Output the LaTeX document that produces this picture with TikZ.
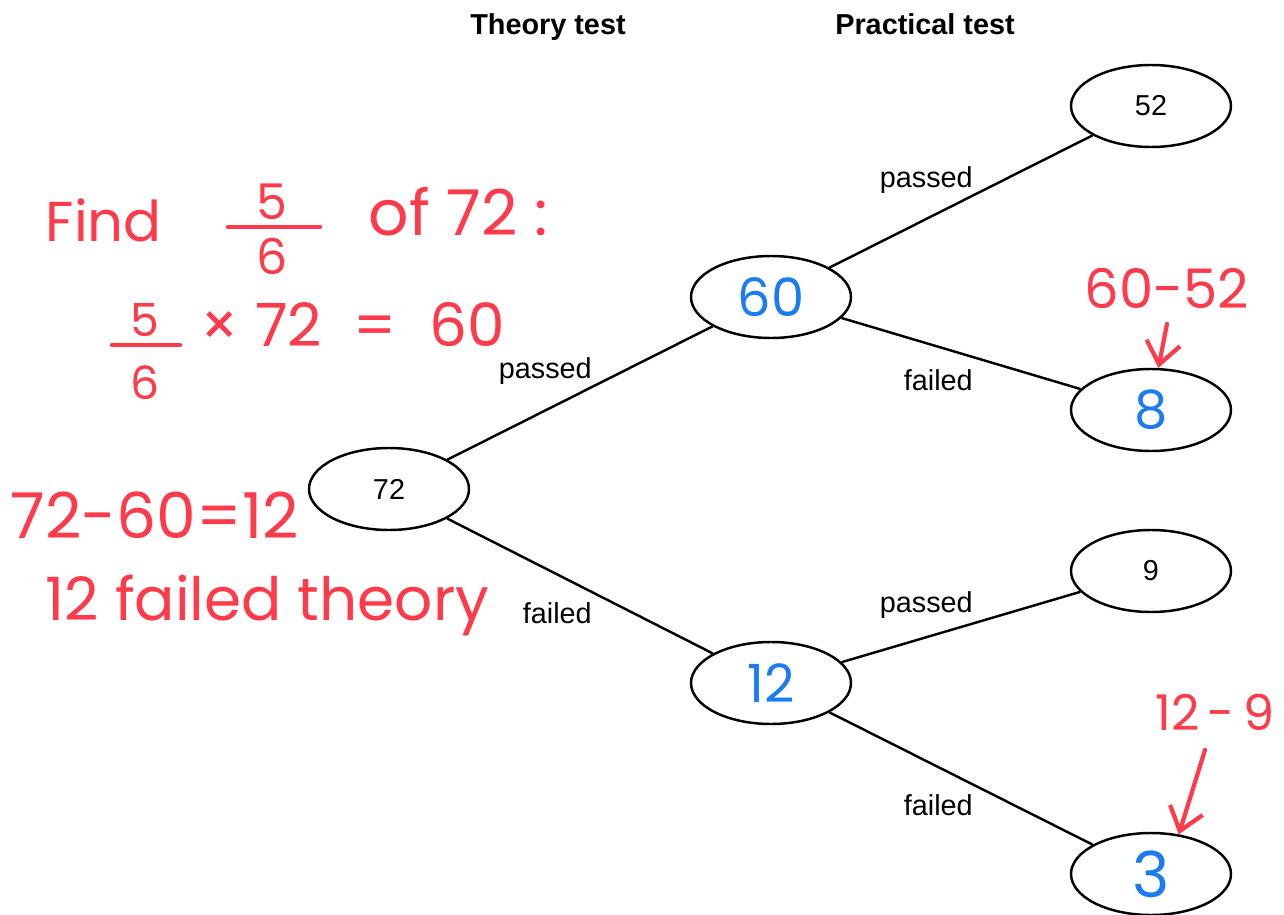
\documentclass[tikz,border=0pt]{standalone}
\usepackage{fontspec}
\setmainfont{Liberation Sans}
\newfontfamily\hand{Poppins}
\usetikzlibrary{arrows.meta,calc,positioning,shapes.geometric}
\definecolor{ink}{HTML}{FF3A4A}
\definecolor{pen}{HTML}{1B7CF2}

\begin{document}
\begin{tikzpicture}[>={Straight Barb[length=2.2mm,width=3.4mm]},
  font=\fontsize{8.2}{10}\selectfont,
  cell/.style={ellipse,draw,line width=.7pt,minimum width=1.6cm,minimum height=.82cm,inner sep=0pt},
  blue/.style={text=pen,font=\hand\fontsize{#1}{#1}\selectfont},
  scrawl/.style={text=ink,font=\hand\fontsize{#1}{#1}\selectfont,inner sep=0pt},
  bar/.style={ink,line width=1.2pt,line cap=round},
  head/.style={font=\bfseries\fontsize{8.2}{10}\selectfont,anchor=base},
  up/.style={inner sep=2pt,above left,xshift=.2cm},
  down/.style={inner sep=2pt,below left,xshift=.2cm,yshift=-.08cm}]
\useasboundingbox (0,0) rectangle (12.84,-9.15);
% headings
\node[head] (theory) at (5.48,-.34) {Theory test};
\node[head] (practical) at (9.25,-.34) {Practical test};
% tree
\node[cell] (all) at (3.89,-4.89) {72};
\node[cell,blue=15] (tp) at (7.71,-2.97) {60};
\node[cell,blue=15] (tf) at (7.71,-6.83) {12};
\node[cell] (pp) at (11.51,-1.06) {52};
\node[cell,blue=15] (pf) at (11.51,-4.10) {8};
\node[cell] (fp) at (11.51,-5.71) {9};
\node[cell,blue=18] (ff) at (11.51,-8.74) {3};
\draw[line width=.7pt] (all) -- node[up] {passed} (tp);
\draw[line width=.7pt] (all) -- node[down] {failed} (tf);
\draw[line width=.7pt] (tp) -- node[up] {passed} (pp);
\draw[line width=.7pt] (tp) -- node[down] {failed} (pf);
\draw[line width=.7pt] (tf) -- node[up] {passed} (fp);
\draw[line width=.7pt] (tf) -- node[down] {failed} (ff);
% working in red
\node[scrawl=16,anchor=west] (find) at (.45,-2.2) {Find};
\node[scrawl=14] (n1) at (2.72,-2.02) {5};
\node[scrawl=14] (d1) at (2.72,-2.56) {6};
\draw[bar] (2.28,-2.27) -- (3.2,-2.27);
\node[scrawl=18,anchor=west] (of) at (3.68,-2.12) {of 72 :};
\node[scrawl=13] (n2) at (1.45,-3.2) {5};
\node[scrawl=13] (d2) at (1.45,-3.83) {6};
\draw[bar] (1.12,-3.45) -- (1.8,-3.45);
\node[scrawl=17,anchor=west] (times) at (2.0,-3.25) {× 72 \ = \ 60};
\node[scrawl=18,anchor=west] (diff) at (.1,-5.15) {72-60=12};
\node[scrawl=17,anchor=west] (failed) at (.45,-6.05) {12 failed theory};
\node[scrawl=15.5] (c1) at (11.67,-2.88) {60-52};
\node[scrawl=14,anchor=west] (c2) at (11.55,-7.12) {12\,-\,9};
\draw[->,bar] (c1.south) ++(0,-.15) coordinate (a1) (a1) -- (pf.80);
\coordinate (a2) at (12.05,-7.5);
\draw[->,bar] (a2) -- (ff.55);
\end{tikzpicture}
\end{document}
